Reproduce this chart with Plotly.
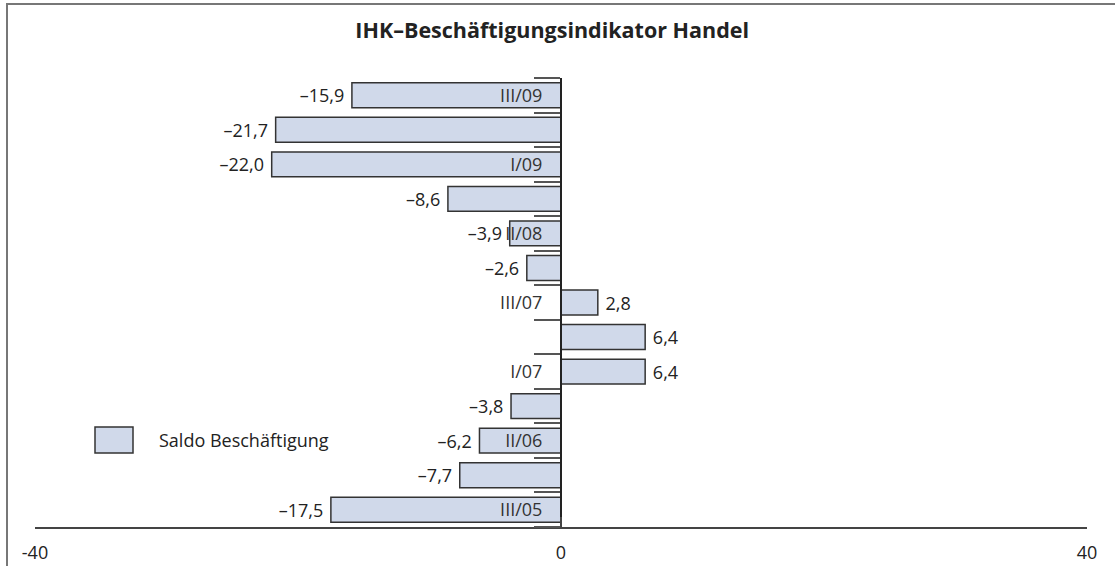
import plotly.graph_objects as go

# Data (bottom to top)
categories = ["III/05", "I/06", "II/06", "III/06", "I/07", "II/07", "III/07",
              "I/08", "II/08", "III/08", "I/09", "II/09", "III/09"]
values = [-17.5, -7.7, -6.2, -3.8, 6.4, 6.4, 2.8, -2.6, -3.9, -8.6, -22.0, -21.7, -15.9]
shown_labels = ["III/05", "", "II/06", "", "I/07", "", "III/07", "", "II/08", "", "I/09", "", "III/09"]
x_tickvals = [-40, 0, 40]
x_ticktext = ["-40", "0", "40"]
series_name = "Saldo Beschäftigung"
title = "IHK–Beschäftigungsindikator Handel"

W, H = 1115, 566
ML, MR, MT, MB = 35, 28, 78, 39
FONT = "Open Sans"
BAR_FILL = "#d0d9ea"
EDGE = "#333333"
TXT = "#222222"


def px_x(p):
    return (p - ML) / (W - ML - MR)


def px_y(p):
    return (H - MB - p) / (H - MT - MB)


def fmt(v):
    s = f"{abs(v):.1f}".replace(".", ",")
    return ("–" + s + "\u00a0") if v < 0 else ("\u00a0" + s)


fig = go.Figure()
fig.add_trace(go.Bar(
    y=categories, x=values, orientation="h",
    marker=dict(color=BAR_FILL, line=dict(color=EDGE, width=1.5)),
    width=0.72,
    text=[fmt(v) for v in values], textposition="outside",
    textfont=dict(family=FONT, size=18, color=TXT),
    cliponaxis=False, showlegend=False, name=series_name,
))

fig.update_layout(
    width=W, height=H, autosize=False,
    margin=dict(l=ML, r=MR, t=MT, b=MB, autoexpand=False),
    paper_bgcolor="white", plot_bgcolor="white",
    font=dict(family=FONT, size=18, color=TXT),
    title=dict(text=f"<b>{title}</b>", x=px_x(556), xanchor="center",
               y=1 - 30 / H, yanchor="middle",
               font=dict(family=FONT, size=21.5, color=TXT)),
    xaxis=dict(range=[-40, 40], tickmode="array", tickvals=x_tickvals, ticktext=x_ticktext,
               showgrid=False, zeroline=False, showline=True, linecolor="#444444", linewidth=1.5,
               ticks="inside", ticklen=10, tickwidth=1.5, tickcolor="#444444",
               ticklabelstandoff=9, automargin=False,
               tickfont=dict(family=FONT, size=18, color=TXT)),
    yaxis=dict(type="category", categoryorder="array", categoryarray=categories,
               range=[-0.5, len(categories) - 0.5],
               tickmode="array", tickvals=categories, ticktext=shown_labels,
               tickson="boundaries", ticks="outside", ticklen=26, tickwidth=1.5,
               tickcolor="#555555", automargin=False, ticklabelstandoff=14,
               showgrid=False, zeroline=False, showline=True, linecolor="#222222", linewidth=2,
               anchor="free", position=0.5,
               tickfont=dict(family=FONT, size=18, color="#333333")),
    bargap=0.28,
)

# Outer frame (top and left edges visible)
fig.add_shape(type="rect", xref="paper", yref="paper",
              x0=px_x(7), x1=px_x(W + 20), y0=px_y(H + 20), y1=px_y(4),
              line=dict(color="#777777", width=2), fillcolor="rgba(0,0,0,0)", layer="below")

# Legend
fig.add_shape(type="rect", xref="paper", yref="paper",
              x0=px_x(95), x1=px_x(133), y0=px_y(453), y1=px_y(427),
              line=dict(color=EDGE, width=1.5), fillcolor=BAR_FILL)
fig.add_annotation(xref="paper", yref="paper", x=px_x(157), y=px_y(440),
                   text=series_name, showarrow=False, xanchor="left", yanchor="middle",
                   font=dict(family=FONT, size=18, color=TXT))

fig.write_html("out.html", config={"displayModeBar": False},
               post_script="document.body.style.margin='0';document.body.style.overflow='hidden';")
